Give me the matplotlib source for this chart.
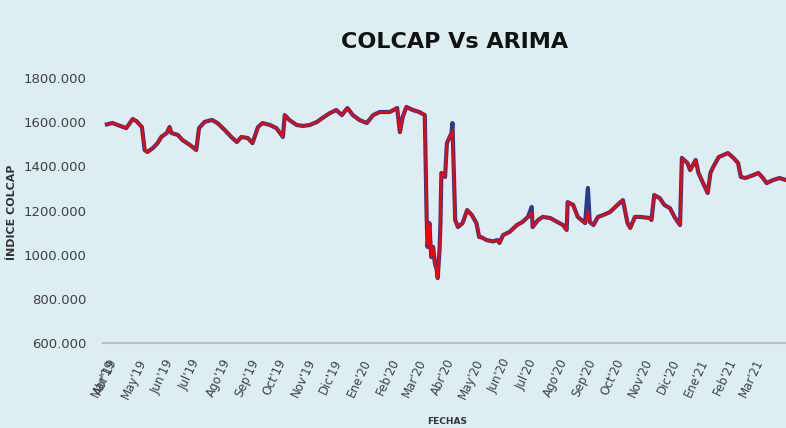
import matplotlib.pyplot as plt
import numpy as np
import pandas as pd

# values
fechas = ["2019-04-02", "2019-04-08", "2019-04-16", "2019-04-23", "2019-04-30", "2019-05-04",
          "2019-05-10", "2019-05-13", "2019-05-16", "2019-05-22", "2019-05-27", "2019-05-31",
          "2019-06-06", "2019-06-09", "2019-06-11", "2019-06-18", "2019-06-23", "2019-07-01",
          "2019-07-08", "2019-07-11", "2019-07-17", "2019-07-25", "2019-07-31", "2019-08-08",
          "2019-08-15", "2019-08-21", "2019-08-26", "2019-09-02", "2019-09-04", "2019-09-07",
          "2019-09-13", "2019-09-18", "2019-09-26", "2019-10-03", "2019-10-10", "2019-10-12",
          "2019-10-17", "2019-10-25", "2019-11-01", "2019-11-08", "2019-11-16", "2019-11-22",
          "2019-11-30", "2019-12-07", "2019-12-13", "2019-12-19", "2019-12-25", "2020-01-01",
          "2020-01-09", "2020-01-16", "2020-01-23", "2020-02-03", "2020-02-11", "2020-02-14",
          "2020-02-17", "2020-02-21", "2020-02-28", "2020-03-06", "2020-03-12", "2020-03-14",
          "2020-03-15", "2020-03-17", "2020-03-19", "2020-03-21", "2020-03-23", "2020-03-25",
          "2020-03-26", "2020-03-28", "2020-03-29", "2020-03-30", "2020-04-03", "2020-04-05",
          "2020-04-08", "2020-04-10", "2020-04-11", "2020-04-14", "2020-04-17", "2020-04-22",
          "2020-04-27", "2020-05-02", "2020-05-07", "2020-05-10", "2020-05-13", "2020-05-18",
          "2020-05-25", "2020-05-30", "2020-06-01", "2020-06-05", "2020-06-12", "2020-06-20",
          "2020-06-26", "2020-07-02", "2020-07-06", "2020-07-07", "2020-07-13", "2020-07-18",
          "2020-07-26", "2020-08-03", "2020-08-09", "2020-08-13", "2020-08-14", "2020-08-20",
          "2020-08-25", "2020-09-02", "2020-09-05", "2020-09-07", "2020-09-11", "2020-09-16",
          "2020-09-22", "2020-09-29", "2020-10-07", "2020-10-13", "2020-10-18", "2020-10-21",
          "2020-10-26", "2020-11-01", "2020-11-11", "2020-11-13", "2020-11-16", "2020-11-22",
          "2020-11-27", "2020-12-03", "2020-12-08", "2020-12-14", "2020-12-16", "2020-12-22",
          "2020-12-25", "2020-12-31", "2021-01-03", "2021-01-08", "2021-01-13", "2021-01-16",
          "2021-01-19", "2021-01-25", "2021-02-04", "2021-02-10", "2021-02-15", "2021-02-18",
          "2021-02-23", "2021-03-04", "2021-03-09", "2021-03-14", "2021-03-18", "2021-03-25",
          "2021-04-01", "2021-04-08"]

colcap = [1590, 1596, 1584, 1573, 1614, 1605,
          1578, 1474, 1465, 1483, 1505, 1533,
          1551, 1578, 1551, 1542, 1519, 1497,
          1474, 1573, 1601, 1610, 1596, 1564,
          1533, 1510, 1533, 1528, 1519, 1505,
          1578, 1596, 1587, 1573, 1533, 1632,
          1610, 1587, 1583, 1587, 1601, 1619,
          1641, 1655, 1632, 1664, 1632, 1610,
          1596, 1632, 1646, 1646, 1664, 1555,
          1623, 1669, 1655, 1646, 1632, 1171,
          1035, 1143, 989, 1035, 960, 931,
          894, 1021, 1143, 1370, 1352, 1505,
          1533, 1551, 1596, 1157, 1125, 1143,
          1202, 1180, 1143, 1080, 1078, 1066,
          1060, 1066, 1053, 1089, 1103, 1134,
          1148, 1171, 1216, 1125, 1157, 1171,
          1166, 1148, 1134, 1112, 1238, 1225,
          1171, 1143, 1302, 1148, 1134, 1171,
          1180, 1193, 1225, 1247, 1143, 1121,
          1171, 1171, 1166, 1157, 1270, 1256,
          1225, 1211, 1171, 1134, 1438, 1415,
          1383, 1429, 1370, 1324, 1279, 1370,
          1397, 1442, 1460, 1438, 1415, 1352,
          1347, 1361, 1370, 1347, 1324, 1338,
          1347, 1338]

# ARIMA follows the index closely, except where it misses the spikes
arima_distinto = {"2020-09-05": 1195, "2020-07-06": 1190, "2020-04-11": 1560}
arima = [arima_distinto.get(f, v) for f, v in zip(fechas, colcap)]

meses = ["Mar'19", "Abr'19", "May'19", "Jun'19", "Jul'19", "Ago'19", "Sep'19", "Oct'19",
         "Nov'19", "Dic'19", "Ene'20", "Feb'20", "Mar'20", "Abr'20", "May'20", "Jun'20",
         "Jul'20", "Ago'20", "Sep'20", "Oct'20", "Nov'20", "Dic'20", "Ene'21", "Feb'21",
         "Mar'21"]
ticks_fechas = ["2019-03-29"] + [d.strftime("%Y-%m-%d") for d in
                                 pd.date_range("2019-04-01", "2021-03-01", freq="MS")]

fondo = "#ddeef2"
fechas_dt = pd.to_datetime(fechas)

fig = plt.figure(figsize=(7.86, 4.28), dpi=100, facecolor=fondo)
ax = fig.add_axes([103.2 / 786, 85 / 428, 1 - 103.2 / 786, 265 / 428])
ax.set_facecolor(fondo)

ax.plot(fechas_dt, colcap, color="#2b3a8c", lw=3.0, solid_joinstyle="round")
ax.plot(fechas_dt, arima, color="#ff0000", lw=1.6, solid_joinstyle="round")

ax.set_xlim(pd.Timestamp("2019-03-29"), pd.Timestamp("2021-04-08"))
ax.set_ylim(600, 1800)
ax.set_yticks(np.arange(600, 1801, 200))
ax.set_yticklabels([f"{v:.3f}" for v in range(600, 1801, 200)])
ax.set_xticks(pd.to_datetime(ticks_fechas))
ax.set_xticklabels(meses, rotation=65, ha="center", fontsize=8.5)

for s in ["top", "right", "left"]:
    ax.spines[s].set_visible(False)
ax.spines["bottom"].set_color("#bfbfbf")
ax.spines["bottom"].set_linewidth(1.6)
ax.tick_params(axis="both", length=0, colors="#404040")
ax.tick_params(axis="y", pad=12, labelsize=9.5)
ax.tick_params(axis="x", pad=10)

fig.text(455 / 786, 1 - 42 / 428, "COLCAP Vs ARIMA", ha="center", va="center",
         fontsize=16, fontweight="bold", color="#111111")
fig.text(12 / 786, 1 - 212 / 428, "ÍNDICE COLCAP", rotation=90, ha="center", va="center",
         fontsize=8, fontweight="bold", color="#333333")
fig.text(447 / 786, 1.5 / 428, "FECHAS", ha="center", va="bottom",
         fontsize=6.5, fontweight="bold", color="#333333")

fig.savefig("out.png", dpi=100, facecolor=fondo)
